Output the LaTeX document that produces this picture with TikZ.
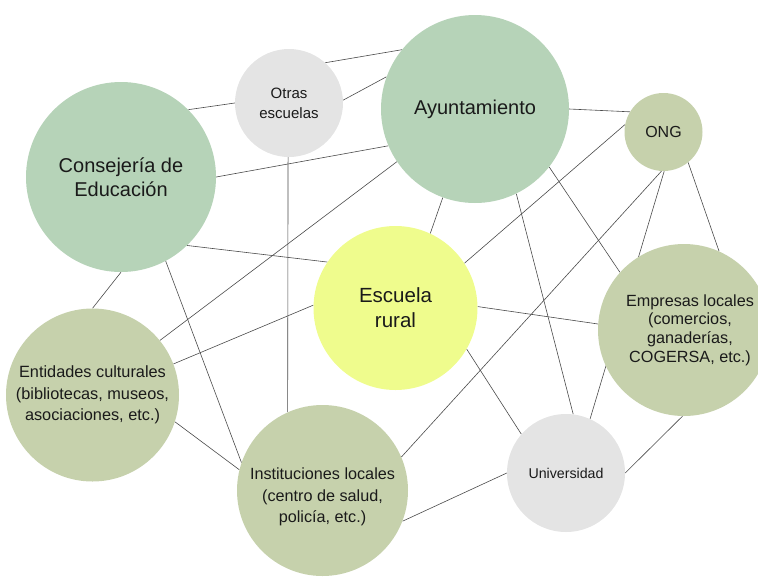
\documentclass[tikz,border=0pt]{standalone}
\usepackage{fontspec}
\setmainfont{Liberation Sans}
\usetikzlibrary{backgrounds}
\definecolor{sage}{HTML}{B6D3B8}
\definecolor{olive}{HTML}{C6D1AC}
\definecolor{greyc}{HTML}{E4E4E4}
\definecolor{yell}{HTML}{EFFC8D}
\definecolor{ink}{HTML}{1A1A1A}
\definecolor{wirec}{HTML}{4A4A4A}
\begin{document}
\begin{tikzpicture}[x=1pt,y=-1pt,
  bub/.style={circle,inner sep=0pt,draw=none,align=center,text=ink},
  txt/.style={inner sep=0pt,align=center,text=ink},
  wire/.style={draw=wirec,line width=0.6pt}]
\useasboundingbox (0,0) rectangle (758,579);
\node[bub,fill=sage,minimum size=190pt,font=\fontsize{20}{23.5}\selectfont] (cons) at (121,177) {Consejería de\\Educación};
\node[bub,fill=greyc,minimum size=108pt,font=\fontsize{15}{20}\selectfont] (otras) at (289,103) {Otras\\escuelas};
\node[bub,fill=sage,minimum size=188pt,font=\fontsize{20}{23.5}\selectfont] (ayto) at (475,109) {Ayuntamiento};
\node[bub,fill=olive,minimum size=78pt,font=\fontsize{16}{19}\selectfont] (ong) at (663.5,132) {ONG};
\node[bub,fill=yell,minimum size=164pt,font=\fontsize{20.5}{25}\selectfont] (esc) at (395.5,308) {Escuela\\rural};
\node[bub,fill=olive,minimum size=172pt] (emp) at (684,330) {};
\node[txt,font=\fontsize{16.2}{18.7}\selectfont] (empt) at (690,330) {Empresas locales\\(comercios,\\ganaderías,\\COGERSA, etc.)};
\node[bub,fill=olive,minimum size=173pt,font=\fontsize{16.3}{21.7}\selectfont] (ent) at (92.5,395) {Entidades culturales\\(bibliotecas, museos,\\asociaciones, etc.)};
\node[bub,fill=olive,minimum size=171pt] (inst) at (322.5,490.5) {};
\node[txt,font=\fontsize{16.2}{21.7}\selectfont] (instt) at (322.5,497) {Instituciones locales\\(centro de salud,\\policía, etc.)};
\node[bub,fill=greyc,minimum size=118pt,font=\fontsize{14.2}{17}\selectfont] (univ) at (566,473) {Universidad};
\begin{scope}[on background layer]
\draw[wire] (cons.45.8) -- (otras.180);
\draw[wire] (otras.48.7) -- (ayto.141.3);
\draw[wire] (otras.3) -- (ayto.160.4);
\draw[wire] (cons.0) -- (ayto.203.9);
\draw[wire] (ayto.214.5) -- (ent.39.3);
\draw[wire] (cons.-46.3) -- (esc.146.5);
\draw[wire] (cons.-90.6) -- (ent.90);
\draw[wire] (cons.-62.6) -- (inst.161.6);
\draw[wire] (otras.-91.6) -- (inst.114.2);
\draw[wire] (ent.-18.3) -- (inst.166);
\draw[wire] (ent.21.4) -- (esc.178);
\draw[wire] (ayto.0.4) -- (ong.149.5);
\draw[wire] (ayto.250) -- (esc.65);
\draw[wire] (ong.169.2) -- (esc.33);
\draw[wire] (ayto.-64) -- (univ.83.3);
\draw[wire] (ayto.-38.9) -- (emp.138.7);
\draw[wire] (ong.-93) -- (inst.23.1);
\draw[wire] (ong.-89) -- (univ.66.8);
\draw[wire] (ong.-51.7) -- (emp.66.6);
\draw[wire] (esc.1) -- (emp.176);
\draw[wire] (esc.-30.9) -- (univ.139.2);
\draw[wire] (univ.0) -- (emp.-91);
\draw[wire] (univ.180) -- (inst.-21.6);
\end{scope}
\end{tikzpicture}
\end{document}
